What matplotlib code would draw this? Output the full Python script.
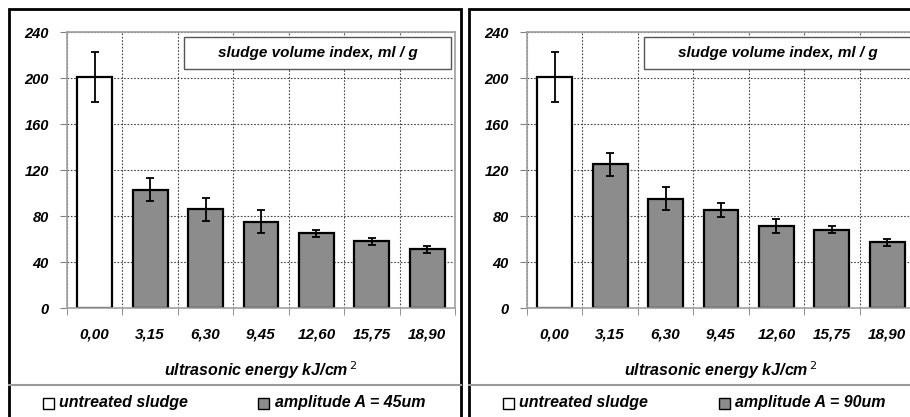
import numpy as np
import matplotlib
matplotlib.use('Agg')
import matplotlib.pyplot as plt
from matplotlib.patches import Rectangle
from matplotlib.lines import Line2D

plt.rcParams['font.family'] = ['Liberation Sans', 'DejaVu Sans']

# data
categories = ['0,00', '3,15', '6,30', '9,45', '12,60', '15,75', '18,90']
svi_45 = [201, 103, 86, 75, 65, 58, 51]
err_45_lo = [22, 10, 10, 10, 3, 3, 3]
err_45_hi = [22, 10, 10, 10, 3, 3, 3]
svi_90 = [201, 125, 95, 85, 71, 68, 57]
err_90_lo = [22, 10, 10, 6, 6, 3, 3]
err_90_hi = [22, 10, 10, 6, 6, 3, 3]
y_ticks = [0, 40, 80, 120, 160, 200, 240]
panel_title = 'sludge volume index, ml / g'
x_title = 'ultrasonic energy kJ/cm$^{\\,2}$'
legend_labels = [['untreated sludge', 'amplitude A = 45um'],
                 ['untreated sludge', 'amplitude A = 90um']]

W, H = 910, 417
fig = plt.figure(figsize=(W / 100, H / 100), dpi=100)

def fx(px):
    return px / W

def fy(py):
    return 1 - py / H

GRAY = '#8c8c8c'
FONT = dict(fontweight='bold', fontstyle='italic')

panels = [
    dict(ax_left=67, box_left=9, box_right=461, vals=svi_45, lo=err_45_lo, hi=err_45_hi,
         leg=legend_labels[0], sq1=43, t1=59, sq2=258, t2=275),
    dict(ax_left=527, box_left=469, box_right=930, vals=svi_90, lo=err_90_lo, hi=err_90_hi,
         leg=legend_labels[1], sq1=503, t1=519, sq2=719, t2=735),
]

for p in panels:
    # outer frame of the panel
    fig.patches.append(Rectangle((fx(p['box_left']), fy(430)), fx(p['box_right'] - p['box_left']),
                                 (430 - 9) / H, transform=fig.transFigure, fill=False,
                                 edgecolor='black', linewidth=2))
    fig.add_artist(Line2D([fx(p['box_left']), fx(p['box_right'])], [fy(385), fy(385)],
                          transform=fig.transFigure, color='#9a9a9a', linewidth=1.5))

    ax = fig.add_axes([fx(p['ax_left']), fy(308), fx(388), 276 / H])
    x = np.arange(len(categories))
    colors = ['white'] + [GRAY] * (len(categories) - 1)
    ax.bar(x, p['vals'], width=0.63, color=colors, edgecolor='black', linewidth=1.6, zorder=2)
    ax.errorbar(x, p['vals'], yerr=[p['lo'], p['hi']], fmt='none', ecolor='black',
                elinewidth=1.3, capsize=3, capthick=1.3, zorder=3)

    ax.set_xlim(-0.5, len(categories) - 0.5)
    ax.set_ylim(0, 240)
    ax.set_yticks(y_ticks)
    ax.set_yticklabels([str(v) for v in y_ticks], fontsize=10.5, **FONT)
    ax.set_xticks(x)
    ax.set_xticklabels(categories, fontsize=11, **FONT)
    ax.set_xticks(np.arange(-0.5, len(categories), 1), minor=True)
    ax.tick_params(axis='x', which='major', length=0, pad=14)
    ax.tick_params(axis='x', which='minor', length=5, color='#808080')
    ax.tick_params(axis='y', length=5, color='#808080', pad=8)

    ax.grid(True, axis='y', which='major', linestyle=(0, (1.5, 1.5)), color='#444444', linewidth=0.8, zorder=0)
    ax.grid(True, axis='x', which='minor', linestyle=(0, (1.5, 1.5)), color='#444444', linewidth=0.8, zorder=0)
    ax.set_axisbelow(True)
    for s in ax.spines.values():
        s.set_color('#a0a0a0')
        s.set_linewidth(1.2)

    ax.set_xlabel(x_title, fontsize=11.5, labelpad=13, **FONT)

    # title box
    ax.add_patch(Rectangle((0.3015, 0.866), 0.6882, 0.116, transform=ax.transAxes,
                           facecolor='white', edgecolor='#555555', linewidth=1, zorder=4))
    ax.text(0.6456, 0.924, panel_title, transform=ax.transAxes, ha='center', va='center',
            fontsize=11, zorder=5, **FONT)

    # legend strip
    fig.patches.append(Rectangle((fx(p['sq1']), fy(409)), fx(11), 11 / H, transform=fig.transFigure,
                                 facecolor='white', edgecolor='black', linewidth=1))
    fig.text(fx(p['t1']), fy(403), p['leg'][0], ha='left', va='center', fontsize=11.5, **FONT)
    fig.patches.append(Rectangle((fx(p['sq2']), fy(409)), fx(11), 11 / H, transform=fig.transFigure,
                                 facecolor=GRAY, edgecolor='black', linewidth=1))
    fig.text(fx(p['t2']), fy(403), p['leg'][1], ha='left', va='center', fontsize=11.5, **FONT)

fig.savefig('out.png', dpi=100)
